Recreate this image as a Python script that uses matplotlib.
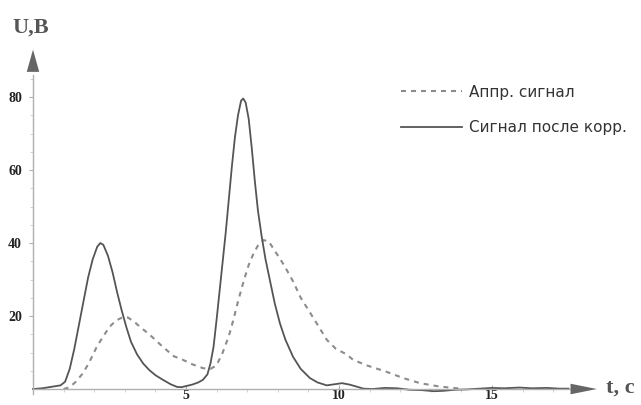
import matplotlib.pyplot as plt

# time, s
t_corr = [0.0, 0.3, 0.6, 0.9, 1.05, 1.2, 1.35, 1.5, 1.65, 1.8, 1.95, 2.1, 2.2, 2.3,
	2.45, 2.6, 2.75, 2.9, 3.05, 3.2, 3.4, 3.6, 3.8, 4.0, 4.25, 4.5, 4.7, 4.85,
	5.0, 5.2, 5.4, 5.55, 5.7, 5.8, 5.9, 6.0, 6.1, 6.2, 6.3, 6.4, 6.5, 6.6, 6.7,
	6.8, 6.87, 6.95, 7.05, 7.15, 7.25, 7.35, 7.47, 7.6, 7.75, 7.9, 8.07, 8.25,
	8.5, 8.75, 9.05, 9.3, 9.6, 9.85, 10.1, 10.35, 10.6, 10.8, 11.1, 11.5, 11.9,
	12.3, 12.7, 13.1, 13.4, 13.8, 14.2, 14.6, 15.0, 15.4, 15.9, 16.3, 16.8,
	17.2, 17.5]
u_corr = [0.0, 0.2, 0.6, 1.0, 2.0, 5.5, 11, 17.5, 24, 30.5, 35.5, 39, 40, 39.5,
	36.5, 32, 26.5, 21.5, 17, 13, 9.5, 7, 5.2, 3.8, 2.5, 1.3, 0.6, 0.5,
	0.8, 1.2, 1.8, 2.5, 4, 7, 11.5, 19, 27, 35, 43, 52, 61, 69, 75,
	79, 79.6, 78.5, 74, 66, 57, 49, 42, 35.5, 29.5, 23.5, 18, 13.5,
	8.8, 5.5, 3, 1.8, 1, 1.3, 1.6, 1.2, 0.6, 0.1, 0.0, 0.3, 0.2,
	-0.2, -0.3, -0.6, -0.5, -0.2, -0.1, 0.1, 0.3, 0.2, 0.4, 0.2, 0.3,
	0.1, 0.1]

t_appr = [1.0, 1.2, 1.4, 1.64, 1.85, 2.08, 2.3, 2.5, 2.7, 2.94, 3.1, 3.3, 3.5,
	3.8, 4.25, 4.6, 4.9, 5.2, 5.56, 5.8, 6.0, 6.2, 6.4, 6.55, 6.7, 6.9, 7.05,
	7.2, 7.35, 7.53, 7.7, 7.97, 8.2, 8.5, 8.75, 9.05, 9.38, 9.6, 9.9, 10.25,
	10.46, 10.9, 11.56, 12.1, 12.65, 13.2, 13.7, 14.0]
u_appr = [0, 0.5, 2, 4.4, 7.5, 11.5, 14.5, 17, 18.7, 19.7, 19.6, 18.5, 17,
	15, 11.5, 9, 8, 6.8, 5.7, 5.5, 6.5, 10, 14.5, 19, 24, 30, 34,
	37, 39.3, 40.8, 40.5, 37, 34, 29.5, 25, 21, 16.5, 13.5, 11, 9.5,
	8, 6.5, 4.7, 3, 1.6, 0.8, 0.3, 0.1]

x_ticks = [5, 10, 15]
y_ticks = [20, 40, 60, 80]
x_minor = list(range(1, 18))
y_minor = list(range(5, 90, 5))
labels = ['Аппр. сигнал', 'Сигнал после корр.']

fig = plt.figure(figsize=(6.41, 4.05), dpi=100)
ax = fig.add_axes([0, 0, 1, 1])
ax.set_xlim(-1.078, 19.87)
ax.set_ylim(-4.38, 106.6)
ax.patch.set_alpha(0)

axis_col = '#b0b0b0'
for s in ['top', 'right']:
	ax.spines[s].set_visible(False)
ax.spines['left'].set_position(('data', 0))
ax.spines['bottom'].set_position(('data', 0))
ax.spines['left'].set_bounds(-1.5, 86)
ax.spines['bottom'].set_bounds(0, 17.6)
for s in ['left', 'bottom']:
	ax.spines[s].set_color(axis_col)
	ax.spines[s].set_linewidth(1.0)

# axis arrows
ax.annotate('', xy=(0, 93), xytext=(0, 85.5),
	arrowprops=dict(arrowstyle='-|>,head_length=1.6,head_width=0.45',
		color='#666666', lw=0, shrinkA=0, shrinkB=0))
ax.annotate('', xy=(18.43, 0), xytext=(17.5, 0),
	arrowprops=dict(arrowstyle='-|>,head_length=1.9,head_width=0.38',
		color='#666666', lw=0, shrinkA=0, shrinkB=0))

ax.set_xticks(x_ticks)
ax.set_yticks(y_ticks)
ax.set_xticks(x_minor, minor=True)
ax.set_yticks(y_minor, minor=True)
ax.tick_params(which='major', length=3, width=0.8, color=axis_col,
	labelsize=10, labelcolor='#222222')
ax.tick_params(axis='x', which='major', direction='in', pad=0)
ax.tick_params(axis='y', which='major', pad=5)
ax.tick_params(which='minor', length=2, width=0.6, color='#cccccc')
for lab in ax.get_xticklabels() + ax.get_yticklabels():
	lab.set_fontfamily('Liberation Serif')
	lab.set_fontweight('bold')

ax.plot(t_appr, u_appr, color='#8c8c8c', lw=1.5, dashes=(2.4, 2.4), label=labels[0])
ax.plot(t_corr, u_corr, color='#555555', lw=1.3, label=labels[1])

ax.text(12 / 641, 1 - 28 / 405, 'U,B', transform=fig.transFigure,
	fontfamily='Liberation Serif', fontweight='bold', fontsize=16,
	color='#555555', va='center', ha='left')
ax.text(606 / 641, 1 - 388 / 405, 't, c', transform=fig.transFigure,
	fontfamily='Liberation Serif', fontweight='bold', fontsize=16,
	color='#555555', va='center', ha='left')

leg = ax.legend(loc='upper left', bbox_to_anchor=(393 / 641, 1 - 77 / 405),
	bbox_transform=fig.transFigure, frameon=False, borderpad=0,
	handlelength=4.0, handletextpad=0.45, labelspacing=1.35,
	prop={'family': 'DejaVu Sans', 'size': 11})
for txt in leg.get_texts():
	txt.set_color('#333333')

fig.savefig('out.png', dpi=100)
